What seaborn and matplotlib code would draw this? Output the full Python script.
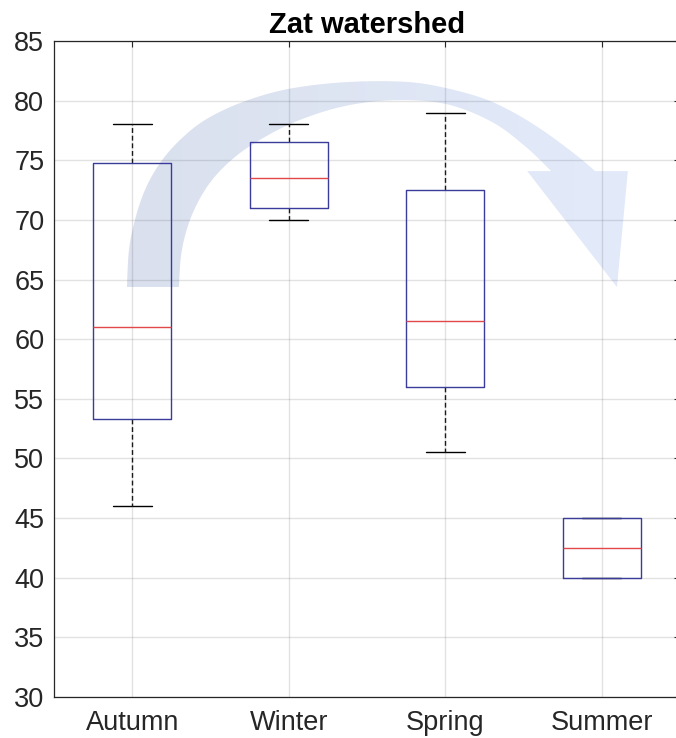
import numpy as np
import pandas as pd
import matplotlib
matplotlib.use("Agg")
import matplotlib.pyplot as plt
from matplotlib.path import Path
from matplotlib.patches import PathPatch
import seaborn as sns

# ---- data: five-number summaries (lower whisker, Q1, median, Q3, upper whisker)
seasons = ["Autumn", "Winter", "Spring", "Summer"]
autumn = [46.0, 53.3, 61.0, 74.8, 78.0]
winter = [70.0, 71.0, 73.5, 76.5, 78.0]
spring = [50.5, 56.0, 61.5, 72.5, 79.0]
summer = [40.0, 40.0, 42.5, 45.0, 45.0]
y_ticks = [30, 35, 40, 45, 50, 55, 60, 65, 70, 75, 80, 85]
title = "Zat watershed"

df = pd.DataFrame({
    "season": np.repeat(seasons, 5),
    "value": autumn + winter + spring + summer,
})

# ---- decorative curved arrow (category position, value)
arrow_outer = [(-0.034, 64.37), (-0.021, 67.47), (0.017, 69.98), (0.081, 72.50),
               (0.177, 74.76), (0.304, 76.69), (0.464, 78.37), (0.687, 79.79),
               (0.961, 80.88), (1.280, 81.47), (1.612, 81.63), (1.880, 81.38),
               (2.199, 80.38), (2.409, 79.20), (2.620, 77.53), (2.837, 75.43),
               (2.958, 74.09)]
arrow_inner = [(0.298, 64.37), (0.317, 67.47), (0.381, 70.40), (0.495, 73.09),
               (0.655, 75.26), (0.846, 76.94), (1.069, 78.37), (1.356, 79.54),
               (1.675, 80.04), (2.007, 79.71), (2.300, 78.20), (2.517, 76.10),
               (2.677, 74.09)]
arrow_head = [(3.167, 74.09), (3.097, 64.37), (2.524, 74.09)]

BOX_BLUE = "#3b3b9c"
MEDIAN_RED = "#e2474a"
DARK = "#262626"

sns.set_style("white")
plt.rcParams["font.family"] = ["Liberation Sans", "DejaVu Sans"]

fig = plt.figure(figsize=(6.76, 7.38), dpi=100)
ax = fig.add_axes([54 / 676, 41 / 738, 626 / 676, 656 / 738])


def catmull_rom(pts, n=24):
    p = np.asarray(pts, dtype=float)
    p = np.vstack([p[0], p, p[-1]])
    out = []
    for i in range(1, len(p) - 2):
        p0, p1, p2, p3 = p[i - 1], p[i], p[i + 1], p[i + 2]
        t = np.linspace(0, 1, n, endpoint=False)[:, None]
        seg = 0.5 * ((2 * p1) + (-p0 + p2) * t
                     + (2 * p0 - 5 * p1 + 4 * p2 - p3) * t ** 2
                     + (-p0 + 3 * p1 - 3 * p2 + p3) * t ** 3)
        out.append(seg)
    out.append(p[-2][None, :])
    return np.vstack(out)


outer = catmull_rom(arrow_outer)
inner = catmull_rom(arrow_inner)[::-1]
verts = np.vstack([outer, np.asarray(arrow_head), inner, outer[:1]])
codes = [Path.MOVETO] + [Path.LINETO] * (len(verts) - 2) + [Path.CLOSEPOLY]
arrow_patch = PathPatch(Path(verts, codes), facecolor="none", edgecolor="none",
                        transform=ax.transData)
ax.add_patch(arrow_patch)

left_rgb = np.array([0.855, 0.880, 0.930])
right_rgb = np.array([0.890, 0.918, 0.980])
ramp = np.linspace(0, 1, 256)[:, None]
grad = (left_rgb * (1 - ramp) + right_rgb * ramp)[None, :, :]
xs, ys = verts[:, 0], verts[:, 1]
img = ax.imshow(grad, extent=(xs.min(), xs.max(), ys.min(), ys.max()),
                aspect="auto", origin="lower", zorder=0.3, interpolation="bilinear")
img.set_clip_path(arrow_patch)

# ---- box plot
sns.boxplot(
    data=df, x="season", y="value", order=seasons, ax=ax,
    width=0.5, whis=1.5, fill=False, color=BOX_BLUE, linewidth=1.0,
    showfliers=False,
    boxprops={"color": BOX_BLUE, "linewidth": 1.0, "zorder": 3},
    medianprops={"color": MEDIAN_RED, "linewidth": 1.0, "zorder": 3.1},
    whiskerprops={"color": "#1a1a1a", "linewidth": 1.0, "linestyle": (0, (3.5, 2.0)), "zorder": 2.5},
    capprops={"color": "black", "linewidth": 1.0, "zorder": 2.4},
)

ax.set_xlim(-0.5, 3.5)
ax.set_ylim(30, 85)
ax.set_yticks(y_ticks)
ax.set_xlabel("")
ax.set_ylabel("")

ax.set_axisbelow(True)
ax.grid(True, color=(0.15, 0.15, 0.15), alpha=0.13, linewidth=1.0, zorder=0.5)

for side in ["left", "right", "top", "bottom"]:
    ax.spines[side].set_visible(True)
    ax.spines[side].set_color(DARK)
    ax.spines[side].set_linewidth(0.9)

ax.tick_params(axis="both", direction="in", length=4, width=0.8,
               top=True, right=True, color=DARK, labelcolor=DARK, labelsize=19.5)
ax.tick_params(axis="y", pad=7)
ax.tick_params(axis="x", pad=9)

ax.set_title(title, fontsize=21, fontweight="bold", color="black", pad=6)

fig.savefig("out.png", dpi=100)
